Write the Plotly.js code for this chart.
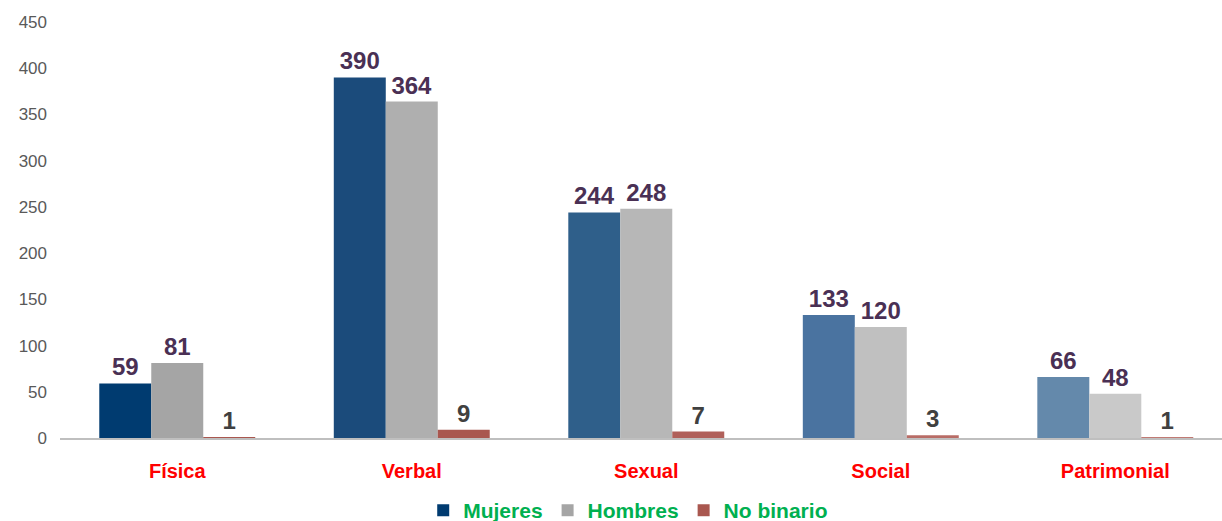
<!DOCTYPE html>
<html>
<head>
<meta charset="utf-8">
<script src="https://cdn.plot.ly/plotly-3.0.1.min.js"></script>
<style>html,body{margin:0;padding:0;background:#fff;}#chart{width:1222px;height:521px;}</style>
</head>
<body>
<div id="chart"></div>
<script>
const categories = ["Física", "Verbal", "Sexual", "Social", "Patrimonial"];
const mujeres = [59, 390, 244, 133, 66];
const hombres = [81, 364, 248, 120, 48];
const noBinario = [1, 9, 7, 3, 1];
const yTicks = [0, 50, 100, 150, 200, 250, 300, 350, 400, 450];

const mujeresColors = ["#003b70", "#1b4b7b", "#2f5f8a", "#4a73a0", "#6489ab"];
const hombresColors = ["#a5a5a5", "#afafaf", "#b7b7b7", "#c0c0c0", "#c9c9c9"];
const noBinarioColors = ["#a9574f", "#a9574f", "#b0605a", "#b86c66", "#c07a74"];

const labelFont = {family: "Liberation Sans, Arial, sans-serif", size: 24, weight: "bold"};

const traces = [
  {
    type: "bar", name: "Mujeres", x: categories, y: mujeres,
    marker: {color: mujeresColors},
    text: mujeres.map(String), textposition: "outside", cliponaxis: false,
    textfont: Object.assign({color: "#4a3054"}, labelFont)
  },
  {
    type: "bar", name: "Hombres", x: categories, y: hombres,
    marker: {color: hombresColors},
    text: hombres.map(String), textposition: "outside", cliponaxis: false,
    textfont: Object.assign({color: "#4a3054"}, labelFont)
  },
  {
    type: "bar", name: "No binario", x: categories, y: noBinario,
    marker: {color: noBinarioColors},
    text: noBinario.map(String), textposition: "outside", cliponaxis: false,
    textfont: Object.assign({color: "#404040"}, labelFont)
  }
];

const layout = {
  width: 1222, height: 521,
  margin: {l: 60, r: 0, t: 22, b: 83, autoexpand: false},
  paper_bgcolor: "#ffffff", plot_bgcolor: "#ffffff",
  barmode: "group", bargap: 0.335, bargroupgap: 0,
  showlegend: true,
  legend: {
    orientation: "h", x: 0.489, xanchor: "center",
    yref: "container", y: 0.02, yanchor: "middle",
    font: {family: "Liberation Sans, Arial, sans-serif", size: 21, color: "#00b050", weight: "bold"},
    itemwidth: 30
  },
  xaxis: {
    type: "category", range: [-0.5, 4.455],
    showline: true, linecolor: "#bfbfbf", linewidth: 2,
    ticks: "", showgrid: false, zeroline: false,
    ticklabelstandoff: 14,
    tickfont: {family: "Liberation Sans, Arial, sans-serif", size: 20, color: "#ff0000", weight: "bold"}
  },
  yaxis: {
    range: [0, 450], tickvals: yTicks, ticktext: yTicks.map(String),
    showgrid: false, zeroline: false, showline: false, ticks: "",
    ticklabelstandoff: 12,
    tickfont: {family: "Liberation Sans, Arial, sans-serif", size: 17, color: "#595959"}
  }
};

Plotly.newPlot("chart", traces, layout, {displayModeBar: false, staticPlot: true});
</script>
</body>
</html>
